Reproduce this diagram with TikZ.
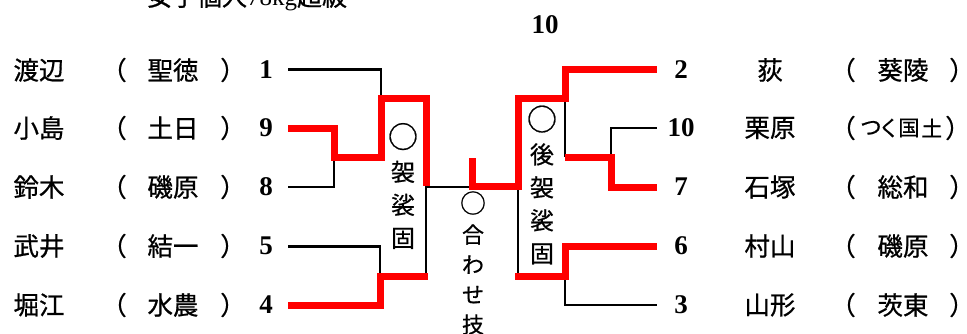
\documentclass[tikz,border=0pt]{standalone}
\usepackage{fontspec}
\setmainfont{Liberation Serif}
\newfontfamily\cjk[FakeBold=0.7]{Noto Sans CJK JP}
\newcommand{\mycirc}{{\fontsize{30}{30}\selectfont ○}}
\newcommand{\mycircs}{{\fontsize{26}{26}\selectfont ○}}
\begin{document}
\begin{tikzpicture}[x=1pt,y=-1pt,
  jp/.style={font=\cjk\fontsize{25.5}{25.5}\selectfont, inner sep=0pt, anchor=center},
  jps/.style={font=\cjk\fontsize{21.5}{21.5}\selectfont, inner sep=0pt, anchor=center},
  num/.style={font=\bfseries\fontsize{27}{27}\selectfont, inner sep=0pt, anchor=center},
  vlab/.style={font=\cjk\fontsize{24}{33}\selectfont, align=center, inner sep=0pt, anchor=center},
  vlabs/.style={font=\cjk\fontsize{22}{30}\selectfont, align=center, inner sep=0pt, anchor=center},
  blk/.style={draw=black, line width=2.6pt, line join=miter},
  win/.style={draw=red, line width=7pt, line join=miter}]
\useasboundingbox (0,0) rectangle (967,333);
% title (cut off at the top)
\node[font=\cjk\fontsize{25}{25}\selectfont, inner sep=0pt] (title) at (247,-2) {女子個人{\rmfamily 78kg}超級};
\node[num] (final) at (545,25) {10};
% left entries
\foreach \nm/\sc/\n/\y/\id in {渡辺/聖徳/1/70/L1, 小島/土日/9/128/L2, 鈴木/磯原/8/187/L3, 武井/結一/5/246/L4, 堀江/水農/4/305/L5}{
  \node[jp] (\id name) at (39,\y) {\nm};
  \node[jp] (\id lp) at (114,\y) {（};
  \node[jp] (\id sc) at (173,\y) {\sc};
  \node[jp] (\id rp) at (233,\y) {）};
  \node[num] (\id num) at (266,\y) {\n};
}
% right entries
\foreach \nm/\sc/\n/\y/\id in {荻/葵陵/2/70/R1, 石塚/総和/7/187/R3, 村山/磯原/6/246/R4, 山形/茨東/3/305/R5}{
  \node[num] (\id num) at (681,\y) {\n};
  \node[jp] (\id name) at (770,\y) {\nm};
  \node[jp] (\id lp) at (843,\y) {（};
  \node[jp] (\id sc) at (903,\y) {\sc};
  \node[jp] (\id rp) at (962,\y) {）};
}
\node[num] (R2num) at (681,128) {10};
\node[jp] (R2name) at (770,128) {栗原};
\node[jp] (R2lp) at (843,128) {（};
\node[jps] (R2a) at (871,128) {つ};
\node[jps] (R2b) at (889,128) {く};
\node[jps] (R2c) at (909,128) {国};
\begin{scope}
\clip (920,110) rectangle (941,146);
\node[jps] (R2d) at (932,128) {土};
\end{scope}
\node[jp] (R2rp) at (958,128) {）};
% vertical labels
\node[vlab] (k1) at (403,186) {\mycirc\\袈\\裟\\固};
\node[vlabs] (k2) at (473,263) {\mycircs\\合\\わ\\せ\\技};
\node[vlab] (k3) at (542,185) {\mycirc\\後\\袈\\裟\\固};
% bracket coordinates
\coordinate (a1) at (288,69.5);
\coordinate (a2) at (288,128);
\coordinate (a3) at (288,187);
\coordinate (a4) at (288,246.5);
\coordinate (a5) at (288,305);
\coordinate (b1) at (657,69.5);
\coordinate (b2) at (657,128);
\coordinate (b3) at (657,187);
\coordinate (b4) at (657,246.5);
\coordinate (b5) at (657,305);
% left bracket
\draw[blk] (a1) -| (381,97);
\draw[blk] (a3) -| (334,157);
\draw[blk] (a4) -| (380,274);
\draw[blk] (426,186) -- (426,276);
\draw[blk] (426,187) -- (472,187);
\draw[win] (a2) -- (334,128) -- (334,157) -- (381,157) -- (381,98) -- (426,98) -- (426,186);
\draw[win] (a5) -- (380,305) -- (380,276) -- (428,276);
% right bracket
\draw[blk] (518,187) -- (518,276);
\draw[blk] (565,276) |- (b5);
\draw[blk] (565,98) -- (565,157);
\draw[blk] (611,157) |- (b2);
\draw[win] (472,158) -- (472,186) -- (518,186) -- (518,98) -- (565,98) -- (565,69.5) -- (b1);
\draw[win] (515,276) -- (565,276) -- (565,246.5) -- (b4);
\draw[win] (565,157) -- (611,157) -- (611,187) -- (b3);
\end{tikzpicture}
\end{document}
